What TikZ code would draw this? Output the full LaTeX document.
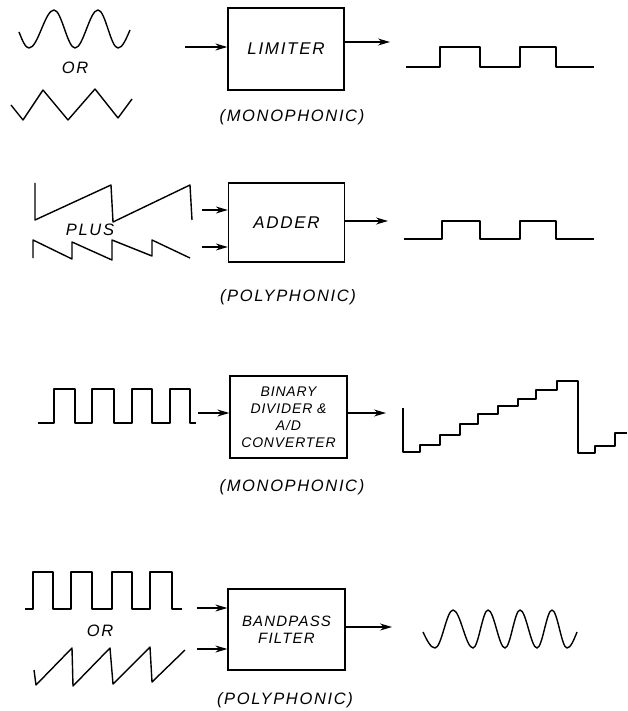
\documentclass[tikz,border=0pt]{standalone}
\usepackage{fontspec}
\setmainfont{Liberation Sans}
\usetikzlibrary{arrows.meta}
\tikzstyle{block} = [draw, line width=1.3pt, minimum width=116pt, minimum height=81pt, inner sep=0pt, align=center, font=\fontsize{17}{20}\selectfont\itshape\addfontfeature{LetterSpace=10}]
\tikzstyle{word} = [font=\fontsize{16.5}{19}\selectfont\itshape\addfontfeature{LetterSpace=10}]
\tikzstyle{wave} = [line width=1.4pt, line join=round]
\tikzstyle{feed} = [line width=1.2pt, -{Stealth[length=12pt,width=7pt]}]

\begin{document}
\begin{tikzpicture}[x=1pt,y=-1pt]
  \useasboundingbox (0,0) rectangle (627,711);

  \node (lim) at (286,49) [block, minimum height=82pt] {LIMITER};
  \node (add) at (286.5,222.5) [block, minimum height=79pt] {ADDER};
  \node (div) at (288.5,417) [block, minimum width=117pt, minimum height=82pt, font=\fontsize{14}{17}\selectfont\itshape\addfontfeature{LetterSpace=6}] {BINARY\\DIVIDER \&\\A/D\\CONVERTER};
  \node (bpf) at (286.5,629.5) [block, minimum width=117pt, font=\fontsize{15}{17}\selectfont\itshape\addfontfeature{LetterSpace=8}] {BANDPASS\\FILTER};

  \node (or1) at (75,68) [word] {OR};
  \node (plus) at (90,230) [word] {PLUS};
  \node (or2) at (100,631) [word] {OR};
  \node (m1) at (292,117) [word] {(MONOPHONIC)};
  \node (p1) at (288,297) [word] {(POLYPHONIC)};
  \node (m2) at (292,487) [word] {(MONOPHONIC)};
  \node (p2) at (285,700) [word] {(POLYPHONIC)};

  \coordinate (i1) at (185,47);
  \coordinate (o1) at (390,42);
  \coordinate (i2a) at (202,210);
  \coordinate (i2b) at (202,247);
  \coordinate (o2) at (388,221);
  \coordinate (i3) at (198,413);
  \coordinate (o3) at (386,413);
  \coordinate (i4a) at (197,608);
  \coordinate (i4b) at (197,649);
  \coordinate (o4) at (392,627);

  \draw [feed] (i1) -- (i1 -| lim.west);
  \draw [feed] (o1 -| lim.east) -- (o1);
  \draw [feed] (i2a) -- (i2a -| add.west);
  \draw [feed] (i2b) -- (i2b -| add.west);
  \draw [feed] (o2 -| add.east) -- (o2);
  \draw [feed] (i3) -- (i3 -| div.west);
  \draw [feed] (o3 -| div.east) -- (o3);
  \draw [feed] (i4a) -- (i4a -| bpf.west);
  \draw [feed] (i4b) -- (i4b -| bpf.west);
  \draw [feed] (o4 -| bpf.east) -- (o4);

  \draw [wave] (19,32) sin (29,48) cos (41.5,29) sin (54,10) cos (64.5,29) sin (75,48)
    cos (86.5,29) sin (98,10) cos (108,29) sin (118,48) cos (130,30);
  \draw [wave] (11,105) -- (23,120) -- (43,90) -- (68,120) -- (95,89) -- (118,118) -- (132,99);
  \draw [wave] (406,67) -- (440,67) -- (440,47) -- (480,47) -- (480,67) -- (520,67) -- (520,47) -- (556,47) -- (556,67) -- (594,67);

  \draw [wave] (35,183) -- (35,220) -- (111,185) -- (113,222) -- (190,185) -- (192,220);
  \draw [wave] (33,258) -- (33,240) -- (72,259) -- (72,242) -- (112,260) -- (112,240) -- (152,256) -- (152,240) -- (190,258);
  \draw [wave] (404,239) -- (442,239) -- (442,221) -- (480,221) -- (480,239) -- (520,239) -- (520,221) -- (556,221) -- (556,239) -- (594,239);

  \draw [wave] (38,423) \foreach \a/\b in {54/75, 92/114, 132/152, 170/190} { -- (\a,423) -- (\a,389) -- (\b,389) -- (\b,423) } -- (196,423);
  \draw [wave] (403,408) -- (403,452) -- (420,452) -- (420,445) -- (440,445) -- (440,435) -- (460,435) -- (460,424) -- (478,424) -- (478,414) -- (498,414) -- (498,406) -- (518,406) -- (518,399) -- (536,399) -- (536,390) -- (557,390) -- (557,381) -- (578,381) -- (578,453) -- (595,453) -- (595,446) -- (615,446) -- (615,433) -- (627,433);

  \draw [wave] (25,609) \foreach \a/\b in {33/53, 71/92, 112/132, 150/172} { -- (\a,609) -- (\a,572) -- (\b,572) -- (\b,609) } -- (182,609);
  \draw [wave] (34,670) -- (36,685) -- (72,648) -- (73,686) -- (110,648) -- (113,684) -- (150,647) -- (152,682) -- (185,650);
  \draw [wave] (423,632) sin (435,648) cos (444,629) sin (453,610) cos (463,629) sin (473,648)
    cos (480.5,629) sin (488,610) cos (496.5,629) sin (505,648) cos (512.5,629) sin (520,610)
    cos (528.5,629) sin (537,648) cos (544.5,629) sin (552,610) cos (559.5,629) sin (567,648) cos (577,632);
\end{tikzpicture}
\end{document}
